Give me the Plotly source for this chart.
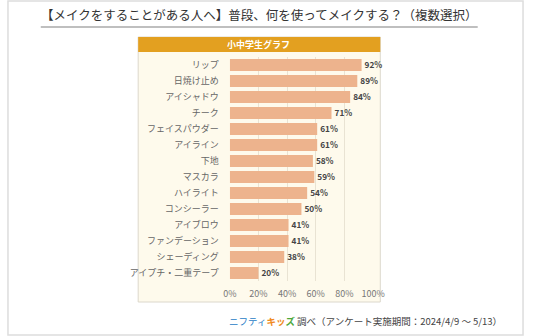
import plotly.graph_objects as go

categories = ["リップ", "日焼け止め", "アイシャドウ", "チーク", "フェイスパウダー", "アイライン",
              "下地", "マスカラ", "ハイライト", "コンシーラー", "アイブロウ", "ファンデーション",
              "シェーディング", "アイプチ・二重テープ"]
values = [92, 89, 84, 71, 61, 61, 58, 59, 54, 50, 41, 41, 38, 20]
x_ticks = [0, 20, 40, 60, 80, 100]
x_tick_labels = ["0%", "20%", "40%", "60%", "80%", "100%"]

title_text = "【メイクをすることがある人へ】普段、何を使ってメイクする？（複数選択）"
panel_title = "小中学生グラフ"

W, H = 536, 336
FONT = "Noto Sans CJK JP"

def px(x):
    return x / W

def py(y):
    return 1 - y / H

fig = go.Figure()
fig.add_trace(go.Bar(
    y=categories, x=values, orientation="h",
    marker=dict(color="#EDB38D", line=dict(width=0)),
    width=0.76,
    text=[f"{v}%" for v in values], textposition="outside",
    textfont=dict(family=FONT, size=9.5, color="#444444", weight="bold"),
    cliponaxis=False, hoverinfo="skip",
))

shapes = [
    dict(type="rect", xref="paper", yref="paper", x0=px(1), x1=px(535), y0=py(335), y1=py(1),
         line=dict(color="#DDDDDD", width=1.5), fillcolor="rgba(0,0,0,0)", layer="below"),
    dict(type="rect", xref="paper", yref="paper", x0=px(136), x1=px(387), y0=py(302), y1=py(37),
         line=dict(color="#DCD8CC", width=1), fillcolor="#FEFAEC", layer="below"),
    dict(type="rect", xref="paper", yref="paper", x0=px(136), x1=px(387), y0=py(52), y1=py(37),
         line=dict(width=0), fillcolor="#E3A020", layer="below"),
    dict(type="line", xref="paper", yref="paper", x0=px(35), x1=px(488), y0=py(27), y1=py(27),
         line=dict(color="#AAAAAA", width=1.5)),
]

annotations = [
    dict(text=title_text, xref="paper", yref="paper", x=px(261), y=py(15), showarrow=False,
         font=dict(family=FONT, size=12.5, color="#333333"), xanchor="center", yanchor="middle"),
    dict(text=f"<b>{panel_title}</b>", xref="paper", yref="paper", x=px(261), y=py(44.5), showarrow=False,
         font=dict(family=FONT, size=9, color="#FFFFFF"), xanchor="center", yanchor="middle"),
    dict(text="<span style='color:#1F7CC6'>ニフティ</span><b><span style='color:#F08A1C'>キッ</span><span style='color:#4DA83A'>ズ</span></b> 調べ（アンケート実施期間：2024/4/9 ～ 5/13）",
         xref="paper", yref="paper", x=px(515), y=py(321), showarrow=False,
         font=dict(family=FONT, size=9.5, color="#444444"), xanchor="right", yanchor="middle"),
]

fig.update_layout(
    width=W, height=H,
    margin=dict(l=0, r=0, t=0, b=0),
    paper_bgcolor="#FFFFFF", plot_bgcolor="rgba(0,0,0,0)",
    showlegend=False,
    shapes=shapes, annotations=annotations,
    bargap=0.24,
    xaxis=dict(domain=[px(231), px(379.5)], range=[0, 100], tickvals=x_ticks, ticktext=x_tick_labels,
               showgrid=True, gridcolor="#E9E3D3", gridwidth=1, zeroline=False, showline=False,
               ticks="", ticklabelstandoff=6,
               tickfont=dict(family=FONT, size=9, color="#777777"), fixedrange=True),
    yaxis=dict(domain=[py(281), py(57)], categoryorder="array", categoryarray=categories,
               autorange="reversed", showgrid=False, zeroline=False, showline=False, ticks="",
               ticklabelstandoff=10,
               tickfont=dict(family=FONT, size=9, color="#666666"), fixedrange=True),
)

fig.write_html("out.html")
